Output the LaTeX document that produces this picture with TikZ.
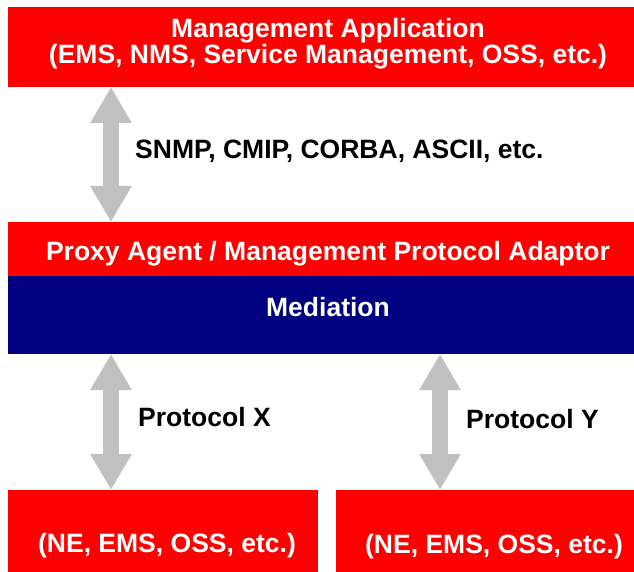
\documentclass[tikz,border=0pt]{standalone}
\usepackage{fontspec}
\setmainfont{Liberation Sans}
\usetikzlibrary{arrows.meta}
\definecolor{boxred}{RGB}{255,0,0}
\definecolor{medblue}{RGB}{0,0,128}
\definecolor{arrowgray}{RGB}{192,192,192}

\begin{document}
\begin{tikzpicture}[x=1pt,y=-1pt,
  block/.style={fill=#1, draw=none, inner sep=0pt, outer sep=0pt, anchor=north west},
  block/.default=boxred,
  boxtext/.style={text=white, inner sep=0pt, align=center,
    font=\fontsize{26.5}{26}\selectfont\bfseries},
  linktext/.style={text=black, inner sep=0pt, anchor=west,
    font=\fontsize{26.5}{26}\selectfont\bfseries},
  link/.style={draw=arrowgray, line width=16pt,
    {Triangle[width=39pt,length=36pt]}-{Triangle[width=39pt,length=36pt]}}]

\useasboundingbox (0,0) rectangle (634,572);

% boxes
\node[block, minimum width=626pt, minimum height=80pt] (app) at (8,7) {};
\node[block, minimum width=626pt, minimum height=54pt] (proxy) at (8,222) {};
\node[block=medblue, minimum width=626pt, minimum height=78pt] (med) at (8,276) {};
\node[block, minimum width=310pt, minimum height=82pt] (nex) at (8,490) {};
\node[block, minimum width=298pt, minimum height=82pt] (ney) at (336,490) {};

% box texts
\node[boxtext] (apptxt) at (328,44) {Management Application\\(EMS, NMS, Service Management, OSS, etc.)};
\node[boxtext] (proxytxt) at (328,254) {Proxy Agent / Management Protocol Adaptor};
\node[boxtext] (medtxt) at (328,307.5) {Mediation};
\node[boxtext] (nextxt) at (167,546) {(NE, EMS, OSS, etc.)};
\node[boxtext] (neytxt) at (494,546.5) {(NE, EMS, OSS, etc.)};

% columns of the arrows
\coordinate (colx) at (111,0);
\coordinate (coly) at (440,0);

% connectors
\draw[link] (app.south -| colx) -- (proxy.north -| colx);
\draw[link] (med.south -| colx) -- (nex.north -| colx);
\draw[link] (med.south -| coly) -- (ney.north -| coly);

% connector labels
\node[linktext] (l1) at (135,151.5) {SNMP, CMIP, CORBA, ASCII, etc.};
\node[linktext] (l2) at (138,417.5) {Protocol X};
\node[linktext] (l3) at (466,419) {Protocol Y};
\end{tikzpicture}
\end{document}
